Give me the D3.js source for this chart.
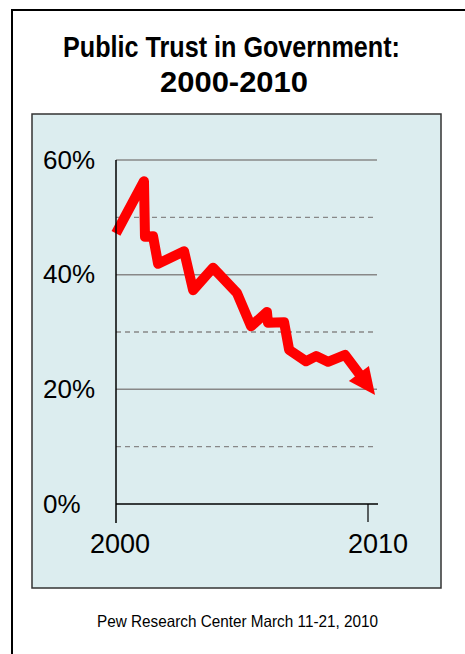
<!DOCTYPE html>
<html>
<head>
<meta charset="utf-8">
<script src="https://cdn.jsdelivr.net/npm/d3@7"></script>
<style>
  html, body { margin: 0; padding: 0; background: #fff; }
  svg { display: block; }
  text { font-family: Arial, "Liberation Sans", Helvetica, sans-serif; }
</style>
</head>
<body>
<svg id="chart" width="465" height="654"></svg>
<script>
// ---- data ----
const titleLines = ["Public Trust in Government:", "2000-2010"];
const sourceNote = "Pew Research Center March 11-21, 2010";
const pointYears = [2000.00, 2001.11, 2001.15, 2001.47, 2001.67, 2002.70, 2003.06, 2003.85, 2004.80,
                    2005.36, 2005.99, 2006.03, 2006.67, 2006.87, 2007.54, 2007.94, 2008.41, 2009.09, 2010.28];
const trustValues = [47.2, 56.3, 46.6, 46.7, 41.9, 44.1, 37.3, 41.2, 36.8,
                     31.0, 33.5, 31.6, 31.7, 26.9, 24.9, 25.8, 24.8, 26.0, 19.0];
const solidTicks = [20, 40, 60];
const dashedTicks = [10, 30, 50];
const yTickLabels = [0, 20, 40, 60];
const xTickYears = [2000, 2010];
const xTickLabels = ["2000", "2010"];

// ---- layout ----
const svg = d3.select("#chart");
const x = d3.scaleLinear().domain([2000, 2010]).range([116, 368]);
const y = d3.scaleLinear().domain([0, 60]).range([504, 160]);
const gridRight = 377;

// outer frame (left and top edges visible)
svg.append("line").attr("x1", 12).attr("x2", 12).attr("y1", 10).attr("y2", 654)
  .attr("stroke", "#000").attr("stroke-width", 2);
svg.append("line").attr("x1", 11).attr("x2", 465).attr("y1", 10).attr("y2", 10)
  .attr("stroke", "#000").attr("stroke-width", 2);

// title
svg.append("text").attr("x", 231.5).attr("y", 57).attr("text-anchor", "middle")
  .attr("font-size", 30).attr("font-weight", "bold").attr("fill", "#000")
  .attr("textLength", 337).attr("lengthAdjust", "spacingAndGlyphs")
  .text(titleLines[0]);
svg.append("text").attr("x", 234).attr("y", 92).attr("text-anchor", "middle")
  .attr("font-size", 30).attr("font-weight", "bold").attr("fill", "#000")
  .attr("textLength", 148).attr("lengthAdjust", "spacingAndGlyphs")
  .text(titleLines[1]);

// panel
svg.append("rect").attr("x", 32).attr("y", 114).attr("width", 409).attr("height", 474)
  .attr("fill", "#dcedef").attr("stroke", "#333").attr("stroke-width", 1.5);

// gridlines
svg.selectAll("line.solid").data(solidTicks).enter().append("line").attr("class", "solid")
  .attr("x1", x(2000)).attr("x2", gridRight)
  .attr("y1", d => y(d)).attr("y2", d => y(d))
  .attr("stroke", "#888").attr("stroke-width", 1.5);
svg.selectAll("line.dash").data(dashedTicks).enter().append("line").attr("class", "dash")
  .attr("x1", x(2000)).attr("x2", gridRight)
  .attr("y1", d => y(d)).attr("y2", d => y(d))
  .attr("stroke", "#888").attr("stroke-width", 1.3).attr("stroke-dasharray", "5,4");

// y labels
svg.selectAll("text.ylab").data(yTickLabels).enter().append("text").attr("class", "ylab")
  .attr("x", 43).attr("y", d => y(d)).attr("dy", "0.33em")
  .attr("font-size", 26).attr("fill", "#000")
  .text(d => d + "%");

// x labels
svg.selectAll("text.xlab").data(xTickYears).enter().append("text").attr("class", "xlab")
  .attr("x", (d, i) => x(d) + (i === 0 ? 4 : 10)).attr("y", 553).attr("text-anchor", "middle")
  .attr("font-size", 27).attr("fill", "#000")
  .text((d, i) => xTickLabels[i]);

// trend line with arrow
const pts = pointYears.map((yr, i) => [x(yr), y(trustValues[i])]);
const tip = pts[pts.length - 1];
const prev = pts[pts.length - 2];
const dx = tip[0] - prev[0], dy = tip[1] - prev[1];
const len = Math.hypot(dx, dy);
const ux = dx / len, uy = dy / len;
const headLen = 27, headHalf = 12.5;
const base = [tip[0] - ux * headLen, tip[1] - uy * headLen];
const linePts = pts.slice(0, -1).concat([[base[0] + ux * 2, base[1] + uy * 2]]);

svg.append("path").datum(linePts)
  .attr("d", d3.line())
  .attr("fill", "none").attr("stroke", "#ff0000").attr("stroke-width", 10)
  .attr("stroke-linejoin", "round").attr("stroke-linecap", "butt");

svg.append("path")
  .attr("d", d3.line()([
    tip,
    [base[0] - uy * headHalf, base[1] + ux * headHalf],
    [base[0] + uy * headHalf, base[1] - ux * headHalf]
  ]) + "Z")
  .attr("fill", "#ff0000");

// axes
svg.append("line").attr("x1", x(2000)).attr("x2", x(2000)).attr("y1", y(60)).attr("y2", 523)
  .attr("stroke", "#000").attr("stroke-width", 1.5);
svg.append("line").attr("x1", x(2000)).attr("x2", 378).attr("y1", y(0)).attr("y2", y(0))
  .attr("stroke", "#000").attr("stroke-width", 1.5);
svg.append("line").attr("x1", x(2010)).attr("x2", x(2010)).attr("y1", y(0)).attr("y2", 522)
  .attr("stroke", "#000").attr("stroke-width", 1.2);

// source note
svg.append("text").attr("x", 237.5).attr("y", 627).attr("text-anchor", "middle")
  .attr("font-size", 16.5).attr("fill", "#000")
  .attr("textLength", 281).attr("lengthAdjust", "spacingAndGlyphs")
  .text(sourceNote);
</script>
</body>
</html>
